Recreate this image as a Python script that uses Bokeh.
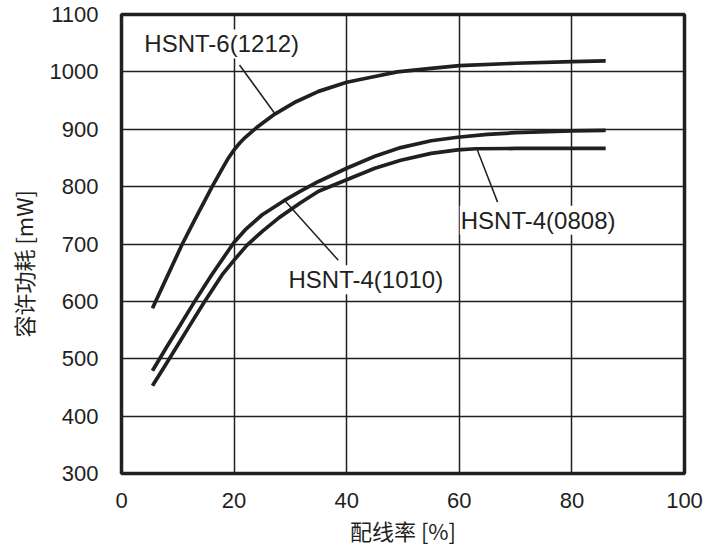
from bokeh.plotting import figure
from bokeh.models import Range1d, Label, FixedTicker, Title
from bokeh.embed import file_html
from bokeh.resources import INLINE

# ---- data ----
x_1212 = [5.5, 8, 10.8, 13, 16.1, 18, 19, 20, 21, 22, 24, 27, 31, 35, 40, 45, 49, 55, 60, 70, 80, 86]
y_1212 = [588, 641, 700, 742, 800, 833, 850, 864, 876, 886, 903, 925, 948, 966, 982, 992, 1000, 1006, 1011, 1015, 1018, 1019]

x_1010 = [5.5, 8, 10, 13, 16, 20, 22, 25, 28.8, 31.8, 35, 40, 45, 49.6, 55, 59.7, 65, 70, 80, 86]
y_1010 = [479, 520, 552, 600, 646, 703, 725, 751, 775, 792, 809, 832, 853, 868, 880, 886, 891, 894, 897, 898]

x_0808 = [5.5, 8, 10, 12, 14.6, 18, 20, 22.3, 25, 28, 31.8, 35, 40, 45, 49.6, 55, 59.7, 63, 70, 86]
y_0808 = [453, 492, 524, 556, 597, 648, 672, 698, 722, 746, 772, 792, 812, 832, 846, 858, 864, 866, 866.5, 866.5]

series_names = ["HSNT-6(1212)", "HSNT-4(1010)", "HSNT-4(0808)"]
label_x = [17.8, 43.4, 74.0]
label_y = [1048.7, 637.7, 741.5]
leader_x0 = [20.96, 29.1, 63.2]
leader_y0 = [1012, 774.7, 863.7]
leader_x1 = [27.2, 38.5, 66.8]
leader_y1 = [928, 671.7, 773]

x_ticks = [0, 20, 40, 60, 80, 100]
y_ticks = [300, 400, 500, 600, 700, 800, 900, 1000, 1100]

x_title = "配线率 [%]"
y_title = "容许功耗 [mW]"

INK = "#231f20"
LAT = "Liberation Sans"
CJK = "Noto Sans CJK SC"

p = figure(width=705, height=553, output_backend="svg", toolbar_location=None,
           x_range=Range1d(0, 100), y_range=Range1d(300, 1100),
           min_border_left=121, min_border_right=21, min_border_top=14, min_border_bottom=80)

p.outline_line_color = INK
p.outline_line_width = 3.5
p.background_fill_color = "white"
p.border_fill_color = "white"

for ax in (p.xaxis[0], p.yaxis[0]):
    ax.axis_line_color = None
    ax.major_tick_line_color = None
    ax.minor_tick_line_color = None
    ax.major_tick_out = 0
    ax.major_tick_in = 0
    ax.major_label_text_font = LAT
    ax.major_label_text_font_size = "22px"
    ax.major_label_text_color = INK

p.xaxis.ticker = FixedTicker(ticks=x_ticks)
p.yaxis.ticker = FixedTicker(ticks=y_ticks)
p.xaxis.major_label_standoff = 19
p.yaxis.major_label_standoff = 23

p.xaxis.axis_label = x_title
p.xaxis.axis_label_text_font = CJK
p.xaxis.axis_label_text_font_size = "22px"
p.xaxis.axis_label_text_font_style = "normal"
p.xaxis.axis_label_text_color = INK
p.xaxis.axis_label_standoff = 3

# y-axis title, placed lower than centre as in the reference
p.add_layout(Title(text=y_title, align="left", offset=136, standoff=12, vertical_align="top",
                   text_font=CJK, text_font_size="22px", text_font_style="normal",
                   text_color=INK), "left")

p.xgrid.ticker = FixedTicker(ticks=[20, 40, 60, 80])
p.ygrid.ticker = FixedTicker(ticks=[400, 500, 600, 700, 800, 900, 1000])
for g in (p.xgrid[0], p.ygrid[0]):
    g.grid_line_color = INK
    g.grid_line_width = 1.5
    g.grid_line_alpha = 1.0

for xs, ys in ((x_1212, y_1212), (x_1010, y_1010), (x_0808, y_0808)):
    p.line(xs, ys, line_color=INK, line_width=3.7, line_join="round", line_cap="butt")

p.segment(x0=leader_x0, y0=leader_y0, x1=leader_x1, y1=leader_y1,
          line_color=INK, line_width=1.5)

for name, lx, ly in zip(series_names, label_x, label_y):
    p.add_layout(Label(x=lx, y=ly, text=name, text_align="center", text_baseline="middle",
                       text_font=LAT, text_font_size="24px", text_color=INK,
                       background_fill_color="white", padding=1))

open("out.html", "w").write(file_html(p, INLINE))
